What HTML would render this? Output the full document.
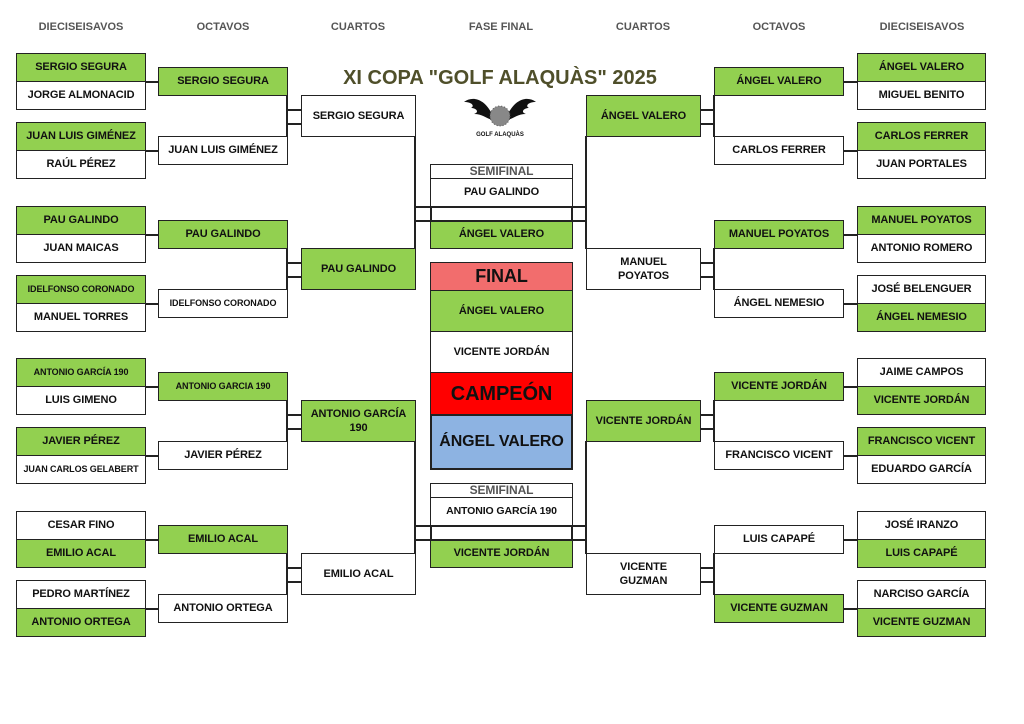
<!DOCTYPE html>
<html><head><meta charset="utf-8"><style>
body{margin:0;width:1024px;height:724px;background:#fff;position:relative;overflow:hidden;font-family:"Liberation Sans",Arial,sans-serif;}
.b{position:absolute;box-sizing:border-box;border:1.5px solid #222;background:#fff;display:flex;align-items:center;justify-content:center;text-align:center;font-weight:bold;font-size:11px;color:#111;line-height:1.3;letter-spacing:-0.1px;}
.g{background:#92d050;}
.s{font-size:9px;}
.h{position:absolute;top:21px;font-size:11px;font-weight:bold;color:#555;width:130px;text-align:center;}
.l{position:absolute;background:#222;}
</style></head><body>
<div class="h" style="left:16px">DIECISEISAVOS</div>
<div class="h" style="left:158px">OCTAVOS</div>
<div class="h" style="left:293px">CUARTOS</div>
<div class="h" style="left:436px">FASE FINAL</div>
<div class="h" style="left:578px">CUARTOS</div>
<div class="h" style="left:714px">OCTAVOS</div>
<div class="h" style="left:857px">DIECISEISAVOS</div>
<div style="position:absolute;left:300px;top:67px;width:400px;text-align:center;font-weight:bold;font-size:20px;color:#4f4f2a;">XI COPA "GOLF ALAQUÀS" 2025</div>
<svg style="position:absolute;left:462px;top:94px" width="76" height="46" viewBox="0 0 76 46">
<path d="M30 20 C22 4 10 2 2 8 C10 8 13 12 9 14 C14 14 18 18 12 20 C20 20 24 24 30 26Z" fill="#111"/>
<path d="M46 20 C54 4 66 2 74 8 C66 8 63 12 67 14 C62 14 58 18 64 20 C56 20 52 24 46 26Z" fill="#111"/>
<circle cx="38" cy="22" r="10" fill="#888"/>
<circle cx="38" cy="22" r="10" fill="none" stroke="#555" stroke-dasharray="1 2"/>
<text x="38" y="42" font-size="6" font-weight="bold" text-anchor="middle" fill="#111" font-family="Liberation Sans">GOLF ALAQUÀS</text>
</svg>

<div class="b g" style="left:16px;top:53px;width:130px;height:29px">SERGIO SEGURA</div>
<div class="b" style="left:16px;top:81px;width:130px;height:29px">JORGE ALMONACID</div>
<div class="b g" style="left:16px;top:122px;width:130px;height:29px">JUAN LUIS GIMÉNEZ</div>
<div class="b" style="left:16px;top:150px;width:130px;height:29px">RAÚL PÉREZ</div>
<div class="b g" style="left:16px;top:206px;width:130px;height:29px">PAU GALINDO</div>
<div class="b" style="left:16px;top:234px;width:130px;height:29px">JUAN MAICAS</div>
<div class="b g s" style="left:16px;top:275px;width:130px;height:29px">IDELFONSO CORONADO</div>
<div class="b" style="left:16px;top:303px;width:130px;height:29px">MANUEL TORRES</div>
<div class="b g s" style="left:16px;top:358px;width:130px;height:29px">ANTONIO GARCÍA 190</div>
<div class="b" style="left:16px;top:386px;width:130px;height:29px">LUIS GIMENO</div>
<div class="b g" style="left:16px;top:427px;width:130px;height:29px">JAVIER PÉREZ</div>
<div class="b s" style="left:16px;top:455px;width:130px;height:29px">JUAN CARLOS GELABERT</div>
<div class="b" style="left:16px;top:511px;width:130px;height:29px">CESAR FINO</div>
<div class="b g" style="left:16px;top:539px;width:130px;height:29px">EMILIO ACAL</div>
<div class="b" style="left:16px;top:580px;width:130px;height:29px">PEDRO MARTÍNEZ</div>
<div class="b g" style="left:16px;top:608px;width:130px;height:29px">ANTONIO ORTEGA</div>
<div class="l" style="left:145px;top:81px;width:14px;height:1.5px"></div>
<div class="l" style="left:145px;top:150px;width:14px;height:1.5px"></div>
<div class="l" style="left:145px;top:234px;width:14px;height:1.5px"></div>
<div class="l" style="left:145px;top:303px;width:14px;height:1.5px"></div>
<div class="l" style="left:145px;top:386px;width:14px;height:1.5px"></div>
<div class="l" style="left:145px;top:455px;width:14px;height:1.5px"></div>
<div class="l" style="left:145px;top:539px;width:14px;height:1.5px"></div>
<div class="l" style="left:145px;top:608px;width:14px;height:1.5px"></div>
<div class="b g" style="left:158px;top:67px;width:130px;height:29px">SERGIO SEGURA</div>
<div class="b" style="left:158px;top:136px;width:130px;height:29px">JUAN LUIS GIMÉNEZ</div>
<div class="b g" style="left:158px;top:220px;width:130px;height:29px">PAU GALINDO</div>
<div class="b s" style="left:158px;top:289px;width:130px;height:29px">IDELFONSO CORONADO</div>
<div class="b g s" style="left:158px;top:372px;width:130px;height:29px">ANTONIO GARCIA 190</div>
<div class="b" style="left:158px;top:441px;width:130px;height:29px">JAVIER PÉREZ</div>
<div class="b g" style="left:158px;top:525px;width:130px;height:29px">EMILIO ACAL</div>
<div class="b" style="left:158px;top:594px;width:130px;height:29px">ANTONIO ORTEGA</div>
<div class="l" style="left:286px;top:95px;width:1.5px;height:42px"></div>
<div class="l" style="left:286px;top:109px;width:16px;height:1.5px"></div>
<div class="l" style="left:286px;top:123px;width:16px;height:1.5px"></div>
<div class="l" style="left:286px;top:248px;width:1.5px;height:42px"></div>
<div class="l" style="left:286px;top:262px;width:16px;height:1.5px"></div>
<div class="l" style="left:286px;top:276px;width:16px;height:1.5px"></div>
<div class="l" style="left:286px;top:400px;width:1.5px;height:42px"></div>
<div class="l" style="left:286px;top:414px;width:16px;height:1.5px"></div>
<div class="l" style="left:286px;top:428px;width:16px;height:1.5px"></div>
<div class="l" style="left:286px;top:553px;width:1.5px;height:42px"></div>
<div class="l" style="left:286px;top:567px;width:16px;height:1.5px"></div>
<div class="l" style="left:286px;top:581px;width:16px;height:1.5px"></div>
<div class="b" style="left:301px;top:95px;width:115px;height:42px">SERGIO SEGURA</div>
<div class="b g" style="left:301px;top:248px;width:115px;height:42px">PAU GALINDO</div>
<div class="b g" style="left:301px;top:400px;width:115px;height:42px">ANTONIO GARCÍA<br>190</div>
<div class="b" style="left:301px;top:553px;width:115px;height:42px">EMILIO ACAL</div>
<div class="l" style="left:414px;top:136px;width:1.5px;height:113px"></div>
<div class="l" style="left:414px;top:441px;width:1.5px;height:113px"></div>
<div class="l" style="left:585px;top:136px;width:1.5px;height:113px"></div>
<div class="l" style="left:585px;top:441px;width:1.5px;height:113px"></div>
<div class="b" style="left:430px;top:164px;width:143px;height:15px;color:#555;font-size:12px">SEMIFINAL</div>
<div class="b" style="left:430px;top:178px;width:143px;height:29px">PAU GALINDO</div>
<div class="b g" style="left:430px;top:220px;width:143px;height:29px">ÁNGEL VALERO</div>
<div class="l" style="left:414px;top:206px;width:173px;height:1.5px"></div>
<div class="l" style="left:414px;top:220px;width:173px;height:1.5px"></div>
<div class="l" style="left:430px;top:206px;width:1.5px;height:15px"></div>
<div class="l" style="left:571px;top:206px;width:1.5px;height:15px"></div>
<div class="b" style="left:430px;top:483px;width:143px;height:15px;color:#555;font-size:12px">SEMIFINAL</div>
<div class="b" style="left:430px;top:497px;width:143px;height:29px;font-size:10.5px">ANTONIO GARCÍA 190</div>
<div class="b g" style="left:430px;top:539px;width:143px;height:29px">VICENTE JORDÁN</div>
<div class="l" style="left:414px;top:525px;width:173px;height:1.5px"></div>
<div class="l" style="left:414px;top:539px;width:173px;height:1.5px"></div>
<div class="l" style="left:430px;top:525px;width:1.5px;height:15px"></div>
<div class="l" style="left:571px;top:525px;width:1.5px;height:15px"></div>
<div class="b" style="left:430px;top:262px;width:143px;height:29px;background:#f26d6d;font-size:18px">FINAL</div>
<div class="b g" style="left:430px;top:290px;width:143px;height:42px">ÁNGEL VALERO</div>
<div class="b" style="left:430px;top:331px;width:143px;height:42px">VICENTE JORDÁN</div>
<div class="b" style="left:430px;top:372px;width:143px;height:43px;background:#ff0000;font-size:20px">CAMPEÓN</div>
<div class="b" style="left:430px;top:414px;width:143px;height:56px;background:#8db3e2;font-size:16px;border-width:2.5px">ÁNGEL VALERO</div>
<div class="b g" style="left:586px;top:95px;width:115px;height:42px">ÁNGEL VALERO</div>
<div class="b" style="left:586px;top:248px;width:115px;height:42px">MANUEL<br>POYATOS</div>
<div class="b g" style="left:586px;top:400px;width:115px;height:42px">VICENTE JORDÁN</div>
<div class="b" style="left:586px;top:553px;width:115px;height:42px">VICENTE<br>GUZMAN</div>
<div class="l" style="left:713px;top:95px;width:1.5px;height:42px"></div>
<div class="l" style="left:700px;top:109px;width:14px;height:1.5px"></div>
<div class="l" style="left:700px;top:123px;width:14px;height:1.5px"></div>
<div class="l" style="left:713px;top:248px;width:1.5px;height:42px"></div>
<div class="l" style="left:700px;top:262px;width:14px;height:1.5px"></div>
<div class="l" style="left:700px;top:276px;width:14px;height:1.5px"></div>
<div class="l" style="left:713px;top:400px;width:1.5px;height:42px"></div>
<div class="l" style="left:700px;top:414px;width:14px;height:1.5px"></div>
<div class="l" style="left:700px;top:428px;width:14px;height:1.5px"></div>
<div class="l" style="left:713px;top:553px;width:1.5px;height:42px"></div>
<div class="l" style="left:700px;top:567px;width:14px;height:1.5px"></div>
<div class="l" style="left:700px;top:581px;width:14px;height:1.5px"></div>
<div class="b g" style="left:714px;top:67px;width:130px;height:29px">ÁNGEL VALERO</div>
<div class="b" style="left:714px;top:136px;width:130px;height:29px">CARLOS FERRER</div>
<div class="b g" style="left:714px;top:220px;width:130px;height:29px">MANUEL POYATOS</div>
<div class="b" style="left:714px;top:289px;width:130px;height:29px">ÁNGEL NEMESIO</div>
<div class="b g" style="left:714px;top:372px;width:130px;height:29px">VICENTE JORDÁN</div>
<div class="b" style="left:714px;top:441px;width:130px;height:29px">FRANCISCO VICENT</div>
<div class="b" style="left:714px;top:525px;width:130px;height:29px">LUIS CAPAPÉ</div>
<div class="b g" style="left:714px;top:594px;width:130px;height:29px">VICENTE GUZMAN</div>
<div class="l" style="left:843px;top:81px;width:14px;height:1.5px"></div>
<div class="l" style="left:843px;top:150px;width:14px;height:1.5px"></div>
<div class="l" style="left:843px;top:234px;width:14px;height:1.5px"></div>
<div class="l" style="left:843px;top:303px;width:14px;height:1.5px"></div>
<div class="l" style="left:843px;top:386px;width:14px;height:1.5px"></div>
<div class="l" style="left:843px;top:455px;width:14px;height:1.5px"></div>
<div class="l" style="left:843px;top:539px;width:14px;height:1.5px"></div>
<div class="l" style="left:843px;top:608px;width:14px;height:1.5px"></div>
<div class="b g" style="left:857px;top:53px;width:129px;height:29px">ÁNGEL VALERO</div>
<div class="b" style="left:857px;top:81px;width:129px;height:29px">MIGUEL BENITO</div>
<div class="b g" style="left:857px;top:122px;width:129px;height:29px">CARLOS FERRER</div>
<div class="b" style="left:857px;top:150px;width:129px;height:29px">JUAN PORTALES</div>
<div class="b g" style="left:857px;top:206px;width:129px;height:29px">MANUEL POYATOS</div>
<div class="b" style="left:857px;top:234px;width:129px;height:29px">ANTONIO ROMERO</div>
<div class="b" style="left:857px;top:275px;width:129px;height:29px">JOSÉ BELENGUER</div>
<div class="b g" style="left:857px;top:303px;width:129px;height:29px">ÁNGEL NEMESIO</div>
<div class="b" style="left:857px;top:358px;width:129px;height:29px">JAIME CAMPOS</div>
<div class="b g" style="left:857px;top:386px;width:129px;height:29px">VICENTE JORDÁN</div>
<div class="b g" style="left:857px;top:427px;width:129px;height:29px">FRANCISCO VICENT</div>
<div class="b" style="left:857px;top:455px;width:129px;height:29px">EDUARDO GARCÍA</div>
<div class="b" style="left:857px;top:511px;width:129px;height:29px">JOSÉ IRANZO</div>
<div class="b g" style="left:857px;top:539px;width:129px;height:29px">LUIS CAPAPÉ</div>
<div class="b" style="left:857px;top:580px;width:129px;height:29px">NARCISO GARCÍA</div>
<div class="b g" style="left:857px;top:608px;width:129px;height:29px">VICENTE GUZMAN</div>
</body></html>
